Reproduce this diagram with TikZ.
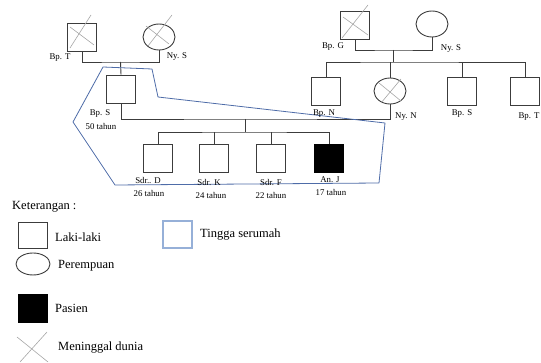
\documentclass[tikz,border=0pt]{standalone}
\usepackage{fontspec}
\setmainfont{Liberation Serif}
\usetikzlibrary{shapes.geometric}
\definecolor{homeblue}{RGB}{78,108,168}
\definecolor{legblue}{RGB}{150,176,216}
\definecolor{linegray}{RGB}{60,60,60}
\begin{document}
\begin{tikzpicture}[x=1pt,y=-1pt,
  male/.style={rectangle, draw=linegray, line width=0.9pt, minimum width=29pt, minimum height=28pt, inner sep=0pt},
  female/.style={ellipse, draw=linegray, line width=0.9pt, minimum width=32pt, minimum height=26pt, inner sep=0pt},
  patient/.style={male, fill=black, draw=black},
  lbl/.style={font=\fontsize{8.8}{10}\selectfont, inner sep=0pt},
  legtxt/.style={font=\fontsize{12.5}{14}\selectfont, inner sep=0pt, anchor=west},
  link/.style={draw=linegray, line width=0.9pt},
  deadx/.style={draw=black!35, line width=0.6pt},
  home/.style={draw=homeblue, line width=0.8pt, line join=round}]
\useasboundingbox (0,0) rectangle (541,363);

% ---------- generation I ----------
\node[male]   (bpT)  at (82,37)  {};
\node[female] (nyS1) at (159,37) {};
\node[male]   (bpG)  at (355,25) {};
\node[female] (nyS2) at (432,24) {};

% ---------- generation II ----------
\node[male]   (bpS1) at (121,89) {};
\node[male]   (bpN)  at (326,91) {};
\node[female] (nyN)  at (390,91) {};
\node[male]   (bpS2) at (462,91) {};
\node[male]   (bpT2) at (525,91) {};

% ---------- generation III ----------
\node[male]    (sdrD) at (158,158) {};
\node[male]    (sdrK) at (214,158) {};
\node[male]    (sdrF) at (271,158) {};
\node[patient] (anJ)  at (329,158) {};

% ---------- deceased crosses ----------
\draw[deadx] (91,15) -- (70,48) (70,27) -- (94,45);
\draw[deadx] (172,15) -- (148,46) (146,26) -- (169,44);
\draw[deadx] (368,5) -- (342,38) (343,17) -- (368,35);
\draw[deadx] (401,79) -- (381,103) (379,83) -- (401,101);

% ---------- junctions ----------
\coordinate (m1) at (120.5,62);
\coordinate (m2) at (393.5,50);
\coordinate (sib2) at (393.5,62);
\coordinate (m3) at (245,119);
\coordinate (sib3) at (245,132);

% ---------- connectors ----------
\draw[link] (bpT.south) |- (m1) -| (nyS1.south);
\draw[link] (m1) -- (bpS1.north);
\draw[link] (bpG.south) |- (m2) -| (nyS2.south);
\draw[link] (m2) -- (sib2);
\draw[link] (bpN.north) |- (sib2) -| (bpT2.north);
\draw[link] (nyN.north) -- (nyN.north |- sib2);
\draw[link] (bpS2.north) -- (bpS2.north |- sib2);
\draw[link] (bpS1.south) |- (m3) -| (nyN.south);
\draw[link] (m3) -- (sib3);
\draw[link] (sdrD.north) |- (sib3) -| (anJ.north);
\draw[link] (sdrK.north) -- (sdrK.north |- sib3);
\draw[link] (sdrF.north) -- (sdrF.north |- sib3);

% ---------- household outline ----------
\draw[home] (103,67) -- (152,69) -- (158,97) -- (385,123) -- (379,183) -- (115,185) -- (73,122) -- cycle;

% ---------- labels ----------
\node[lbl] (lbpT)  at (60,58)   {Bp. T};
\node[lbl] (lnyS1) at (177,57)  {Ny. S};
\node[lbl] (lbpG)  at (333,47)  {Bp. G};
\node[lbl] (lnyS2) at (451,49)  {Ny. S};
\node[lbl] (lbpS1) at (100,114) {Bp. S};
\node[lbl] (lage1) at (101,126) {50 tahun};
\node[lbl] (lbpN)  at (324,114) {Bp. N};
\node[lbl] (lnyN)  at (406,117) {Ny. N};
\node[lbl] (lbpS2) at (462,114) {Bp. S};
\node[lbl] (lbpT2) at (529,117) {Bp. T};
\node[lbl] (lsdrD) at (148,181) {Sdr.. D};
\node[lbl] (lageD) at (149,193) {26 tahun};
\node[lbl] (lsdrK) at (209,183) {Sdr. K};
\node[lbl] (lageK) at (211,195) {24 tahun};
\node[lbl] (lsdrF) at (271,183) {Sdr. F};
\node[lbl] (lageF) at (271,195) {22 tahun};
\node[lbl] (lanJ)  at (330,180) {An. J};
\node[lbl] (lageJ) at (331,192) {17 tahun};

% ---------- legend ----------
\node[legtxt] (ket) at (12,207) {Keterangan :};
\node[male, minimum width=29pt, minimum height=26pt] (kmale) at (32.5,235) {};
\node[legtxt] (kmaletxt) at (55,237) {Laki-laki};
\node[rectangle, draw=legblue, line width=1.3pt, minimum width=29pt, minimum height=27pt, inner sep=0pt] (khome) at (177.5,234.5) {};
\node[legtxt] (khometxt) at (200,235) {Tingga serumah};
\node[female, minimum width=34pt, minimum height=22pt] (kfem) at (33,264) {};
\node[legtxt] (kfemtxt) at (58,266) {Perempuan};
\node[patient, minimum width=29pt, minimum height=28pt] (kpat) at (32.5,308) {};
\node[legtxt] (kpattxt) at (55,308) {Pasien};
\draw[deadx] (17,337) -- (48,362) (47,332) -- (20,362);
\node[legtxt] (kdeadtxt) at (58,348) {Meninggal dunia};
\end{tikzpicture}
\end{document}
